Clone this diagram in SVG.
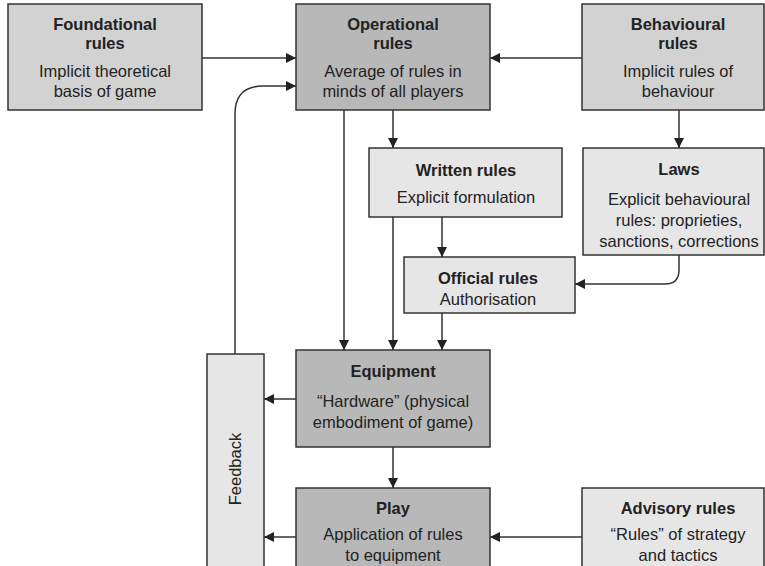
<svg xmlns="http://www.w3.org/2000/svg" width="765" height="566" viewBox="0 0 765 566">
<defs>
<marker id="ah" viewBox="0 0 10 10" refX="10" refY="5" markerWidth="10" markerHeight="10" markerUnits="userSpaceOnUse" orient="auto">
<path d="M0,0 L10,5 L0,10 z" fill="#222"/>
</marker>
<style>
.box{stroke:#333;stroke-width:1.5}
.dark{fill:#b8b8b8}
.mid{fill:#d2d2d2}
.light{fill:#e6e6e6}
text{font-family:"Liberation Sans",Arial,sans-serif;font-size:16.5px;fill:#222;text-anchor:middle}
.t{font-weight:bold}
.c{fill:none;stroke:#333;stroke-width:1.5;marker-end:url(#ah)}
</style>
</defs>
<rect width="765" height="566" fill="#fff"/>
<g id="connectors">
<path class="c" d="M202,58 H296"/>
<path class="c" d="M235,354 V114 Q235,86 263,86 H296"/>
<path class="c" d="M582,58 H490"/>
<path class="c" d="M344,110 V350"/>
<path class="c" d="M393,110 V148"/>
<path class="c" d="M679,110 V148"/>
<path class="c" d="M442,217 V257"/>
<path class="c" d="M393,217 V350"/>
<path class="c" d="M442,313 V350"/>
<path class="c" d="M679,255 V270 Q679,284 665,284 H575"/>
<path class="c" d="M296,399 H264"/>
<path class="c" d="M393,447 V488"/>
<path class="c" d="M296,537 H264"/>
<path class="c" d="M582,537 H490"/>
</g>
<g id="foundational">
<rect class="box mid" x="8" y="4" width="194" height="106"/>
<text class="t" x="105" y="30">Foundational</text>
<text class="t" x="105" y="49">rules</text>
<text x="105" y="77">Implicit theoretical</text>
<text x="105" y="97">basis of game</text>
</g>
<g id="operational">
<rect class="box dark" x="296" y="4" width="194" height="106"/>
<text class="t" x="393" y="30">Operational</text>
<text class="t" x="393" y="49">rules</text>
<text x="393" y="77">Average of rules in</text>
<text x="393" y="97">minds of all players</text>
</g>
<g id="behavioural">
<rect class="box mid" x="582" y="4" width="182" height="106"/>
<text class="t" x="678" y="30">Behavioural</text>
<text class="t" x="678" y="49">rules</text>
<text x="678" y="77">Implicit rules of</text>
<text x="678" y="97">behaviour</text>
</g>
<g id="written">
<rect class="box light" x="369" y="148" width="193" height="69"/>
<text class="t" x="466" y="176">Written rules</text>
<text x="466" y="203">Explicit formulation</text>
</g>
<g id="laws">
<rect class="box light" x="583" y="148" width="181" height="107"/>
<text class="t" x="679" y="175">Laws</text>
<text x="679" y="205">Explicit behavioural</text>
<text x="679" y="226">rules: proprieties,</text>
<text x="679" y="247">sanctions, corrections</text>
</g>
<g id="official">
<rect class="box light" x="404" y="257" width="171" height="56"/>
<text class="t" x="488" y="284">Official rules</text>
<text x="488" y="305">Authorisation</text>
</g>
<g id="feedback">
<rect class="box light" x="207" y="354" width="57" height="220"/>
<text transform="translate(241,469) rotate(-90)">Feedback</text>
</g>
<g id="equipment">
<rect class="box dark" x="296" y="350" width="194" height="97"/>
<text class="t" x="393" y="377">Equipment</text>
<text x="393" y="407">“Hardware” (physical</text>
<text x="393" y="428">embodiment of game)</text>
</g>
<g id="play">
<rect class="box dark" x="296" y="488" width="194" height="90"/>
<text class="t" x="393" y="514">Play</text>
<text x="393" y="540">Application of rules</text>
<text x="393" y="561">to equipment</text>
</g>
<g id="advisory">
<rect class="box light" x="582" y="488" width="182" height="90"/>
<text class="t" x="678" y="514">Advisory rules</text>
<text x="678" y="540">“Rules” of strategy</text>
<text x="678" y="561">and tactics</text>
</g>
</svg>
